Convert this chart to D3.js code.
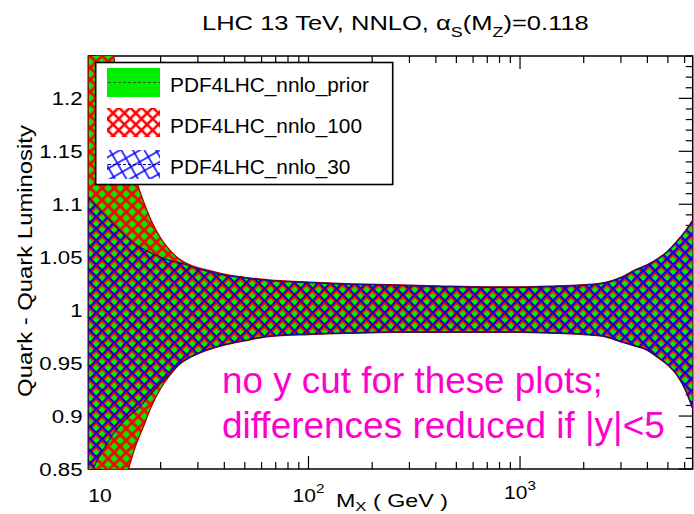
<!DOCTYPE html>
<html><head><meta charset="utf-8">
<script src="https://cdn.jsdelivr.net/npm/d3@7"></script>
<style>
body{margin:0;background:#fff}
svg{display:block}
text{font-family:"Liberation Sans",Arial,Helvetica,sans-serif;fill:#000}
</style>
</head><body>
<svg id="c" width="694" height="514"></svg>
<script>
// ---------------- data ----------------
const mass = [9.1, 10, 11, 12, 13, 14, 15, 16.5, 18, 20, 22, 25, 28, 33, 40, 50, 65, 100, 150, 250, 400, 700, 1000, 1500, 2000, 2500, 3000, 3500, 4000, 4500, 5000, 5500, 6000, 6600];
const priorUp = [1.45, 1.36, 1.29, 1.24, 1.19, 1.16, 1.13, 1.104, 1.085, 1.068, 1.057, 1.047, 1.042, 1.038, 1.034, 1.031, 1.0285, 1.0265, 1.025, 1.024, 1.023, 1.022, 1.022, 1.023, 1.024, 1.026, 1.031, 1.038, 1.043, 1.049, 1.056, 1.065, 1.074, 1.086];
const priorLo = [0.6, 0.7, 0.76, 0.8, 0.825, 0.848, 0.868, 0.889, 0.908, 0.926, 0.938, 0.950, 0.956, 0.962, 0.967, 0.971, 0.975, 0.977, 0.978, 0.979, 0.979, 0.979, 0.979, 0.978, 0.977, 0.975, 0.970, 0.966, 0.962, 0.955, 0.948, 0.939, 0.926, 0.905];
const nnlo100Up = [1.45, 1.36, 1.29, 1.24, 1.19, 1.16, 1.13, 1.104, 1.085, 1.068, 1.057, 1.047, 1.042, 1.038, 1.034, 1.031, 1.0285, 1.0265, 1.025, 1.024, 1.023, 1.022, 1.022, 1.023, 1.024, 1.026, 1.031, 1.038, 1.043, 1.049, 1.056, 1.065, 1.074, 1.086];
const nnlo100Lo = [0.6, 0.7, 0.76, 0.8, 0.825, 0.848, 0.868, 0.889, 0.908, 0.926, 0.938, 0.950, 0.956, 0.962, 0.967, 0.971, 0.975, 0.977, 0.978, 0.979, 0.979, 0.979, 0.979, 0.978, 0.977, 0.975, 0.970, 0.966, 0.962, 0.955, 0.948, 0.939, 0.926, 0.905];
const nnlo30Up = [1.107, 1.098, 1.089, 1.081, 1.074, 1.068, 1.063, 1.058, 1.054, 1.050, 1.047, 1.0445, 1.041, 1.037, 1.033, 1.0305, 1.028, 1.026, 1.0245, 1.0235, 1.0225, 1.0215, 1.0215, 1.0225, 1.0235, 1.0255, 1.0305, 1.0375, 1.0425, 1.0485, 1.0555, 1.0645, 1.0735, 1.0855];
const nnlo30Lo = [0.838, 0.858, 0.872, 0.884, 0.892, 0.899, 0.904, 0.912, 0.921, 0.931, 0.939, 0.9505, 0.9565, 0.9625, 0.9675, 0.9715, 0.9755, 0.9775, 0.9785, 0.9795, 0.9795, 0.9795, 0.9795, 0.9785, 0.9775, 0.9755, 0.9705, 0.9665, 0.9625, 0.9555, 0.9485, 0.9395, 0.9265, 0.9055];

const xTickValues = [10, 100, 1000];
const xTickSup = ["", "2", "3"];
const yTickValues = [0.85, 0.9, 0.95, 1.0, 1.05, 1.1, 1.15, 1.2];
const yTickLabels = ["0.85", "0.9", "0.95", "1", "1.05", "1.1", "1.15", "1.2"];
const seriesNames = ["PDF4LHC_nnlo_prior", "PDF4LHC_nnlo_100", "PDF4LHC_nnlo_30"];
const noteLines = ["no y cut for these plots;", "differences reduced if |y|<5"];

// ---------------- layout ----------------
const L = 88.3, R = 692.7, T = 56, B = 469;
const svg = d3.select("#c");
const x = d3.scaleLog().domain([9.1, 6550]).range([L, R]);
const y = d3.scaleLinear().domain([0.85, 1.24]).range([B, T]);

const GREEN = "rgb(0,238,0)", RED = "rgb(255,0,0)", BLUE = "rgb(0,0,255)";

const defs = svg.append("defs");
defs.append("clipPath").attr("id", "plotclip").append("rect")
  .attr("x", L).attr("y", T).attr("width", R - L).attr("height", B - T);

function gridPattern(id, size, color, sw, off, rot) {
  const p = defs.append("pattern").attr("id", id)
    .attr("patternUnits", "userSpaceOnUse")
    .attr("width", size).attr("height", size)
    .attr("patternTransform", `rotate(${rot}) translate(${off},${off})`);
  p.append("path")
    .attr("d", `M0,0H${size}M0,${size}H${size}M0,0V${size}M${size},0V${size}`)
    .attr("stroke", color).attr("stroke-width", sw).attr("fill", "none");
  return p;
}
gridPattern("hatchRed", 8.5, RED, 2.8, 1.2, 45);
gridPattern("hatchBlue", 8.5, BLUE, 1.9, 0, 45);
gridPattern("hatchRedLeg", 8, RED, 2.6, 0, 45);
gridPattern("hatchBlueLeg", 10, BLUE, 1.5, 0, 60);

// ---------------- axes (under bands) ----------------
const axes = svg.append("g").attr("stroke", "#000").attr("stroke-width", 1.2);
const xMinor = [];
[10, 100, 1000].forEach(d => { for (let k = 2; k <= 9; k++) if (d * k < 6550) xMinor.push(d * k); });
const yMinor = d3.range(85, 124.5, 1).map(v => v / 100);

xTickValues.forEach(v => {
  axes.append("line").attr("x1", x(v)).attr("x2", x(v)).attr("y1", B).attr("y2", B - 13);
  axes.append("line").attr("x1", x(v)).attr("x2", x(v)).attr("y1", T).attr("y2", T + 13);
});
xMinor.forEach(v => {
  axes.append("line").attr("x1", x(v)).attr("x2", x(v)).attr("y1", B).attr("y2", B - 7);
  axes.append("line").attr("x1", x(v)).attr("x2", x(v)).attr("y1", T).attr("y2", T + 7);
});
yMinor.forEach(v => {
  const major = yTickValues.some(t => Math.abs(t - v) < 1e-6);
  const len = major ? 14 : 7;
  axes.append("line").attr("x1", L).attr("x2", L + len).attr("y1", y(v)).attr("y2", y(v));
  axes.append("line").attr("x1", R).attr("x2", R - len).attr("y1", y(v)).attr("y2", y(v));
});
axes.append("rect").attr("x", L).attr("y", T).attr("width", R - L).attr("height", B - T)
  .attr("fill", "none").attr("stroke-width", 1.5);

// ---------------- bands ----------------
function band(up, lo) {
  return d3.area().curve(d3.curveMonotoneX)
    .x((d, i) => x(mass[i])).y0((d, i) => y(lo[i])).y1((d, i) => y(up[i]))(mass);
}
const plot = svg.append("g").attr("clip-path", "url(#plotclip)");
plot.append("path").attr("d", band(priorUp, priorLo)).attr("fill", GREEN);
plot.append("path").attr("d", band(nnlo100Up, nnlo100Lo)).attr("fill", "url(#hatchRed)")
  .attr("stroke", "#b00000").attr("stroke-width", 1.3);
plot.append("path").attr("d", band(nnlo30Up, nnlo30Lo)).attr("fill", "url(#hatchBlue)")
  .attr("stroke", "#10107a").attr("stroke-width", 1.2);

// ---------------- text helpers ----------------
function place(t, px, py, k, rot) {
  t.attr("transform", `translate(${px},${py})` + (rot ? ` rotate(${rot})` : "") + ` scale(${k},1)`);
}
function natural(t) { return t.node().getComputedTextLength(); }

// tick labels
const XK = 1.17;
xTickValues.forEach((v, i) => {
  const t = svg.append("text").attr("font-size", 18).attr("text-anchor", "middle");
  t.append("tspan").text("10");
  if (xTickSup[i]) t.append("tspan").attr("font-size", 13).attr("dy", -9).text(xTickSup[i]);
  place(t, x(v) + (xTickSup[i] ? 0 : 3), i === 2 ? 499 : 502, XK);
});
yTickValues.forEach((v, i) => {
  const t = svg.append("text").attr("font-size", 19).attr("text-anchor", "end").text(yTickLabels[i]);
  place(t, 82.5, y(v) + 7, XK);
});

// axis titles
{
  const t = svg.append("text").attr("font-size", 18);
  t.append("tspan").text("M");
  t.append("tspan").attr("font-size", 13).attr("dy", 4).text("X");
  t.append("tspan").attr("dy", -4).text(" ( GeV )");
  place(t, 336, 507, 112 / natural(t));
}
{
  const t = svg.append("text").attr("font-size", 21).attr("text-anchor", "middle").text("Quark - Quark Luminosity");
  place(t, 32, 261, 272 / natural(t), -90);
}
// title
{
  const t = svg.append("text").attr("font-size", 20);
  t.append("tspan").text("LHC 13 TeV, NNLO, ");
  t.append("tspan").text("α");
  t.append("tspan").attr("font-size", 14).attr("dy", 7).text("S");
  t.append("tspan").attr("dy", -7).text("(M");
  t.append("tspan").attr("font-size", 14).attr("dy", 7).text("Z");
  t.append("tspan").attr("dy", -7).text(")=0.118");
  place(t, 202, 29.5, 387 / natural(t));
}

// ---------------- legend ----------------
const lg = svg.append("g");
lg.append("rect").attr("x", 95.7).attr("y", 62.5).attr("width", 297).attr("height", 122)
  .attr("fill", "#fff").attr("stroke", "#000").attr("stroke-width", 1.6);
const rowTop = [68, 108, 150];
const rowBase = [91.5, 133, 174];
lg.append("rect").attr("x", 107).attr("y", rowTop[0]).attr("width", 53).attr("height", 29).attr("fill", GREEN);
lg.append("line").attr("x1", 108).attr("x2", 160).attr("y1", rowTop[0] + 14.5).attr("y2", rowTop[0] + 14.5)
  .attr("stroke", "#2a5a2a").attr("stroke-width", 1).attr("stroke-dasharray", "3,2");
lg.append("rect").attr("x", 107).attr("y", rowTop[1]).attr("width", 53).attr("height", 29).attr("fill", "url(#hatchRedLeg)");
lg.append("rect").attr("x", 107).attr("y", rowTop[2]).attr("width", 53).attr("height", 29).attr("fill", "url(#hatchBlueLeg)");
lg.append("line").attr("x1", 108).attr("x2", 160).attr("y1", rowTop[2] + 14.5).attr("y2", rowTop[2] + 14.5)
  .attr("stroke", "#000060").attr("stroke-width", 1).attr("stroke-dasharray", "3,2");
let LK = 1;
seriesNames.forEach((s, i) => {
  const t = lg.append("text").attr("font-size", 19.5).text(s);
  if (i === 0) LK = 199 / natural(t);
  place(t, 170, rowBase[i], LK);
});

// ---------------- annotation ----------------
const noteWidth = [381, 443];
noteLines.forEach((s, i) => {
  const t = svg.append("text").attr("font-size", 37).style("fill", "#ff00cc").text(s);
  place(t, 222, [393, 438][i], noteWidth[i] / natural(t));
});
</script>
</body></html>
